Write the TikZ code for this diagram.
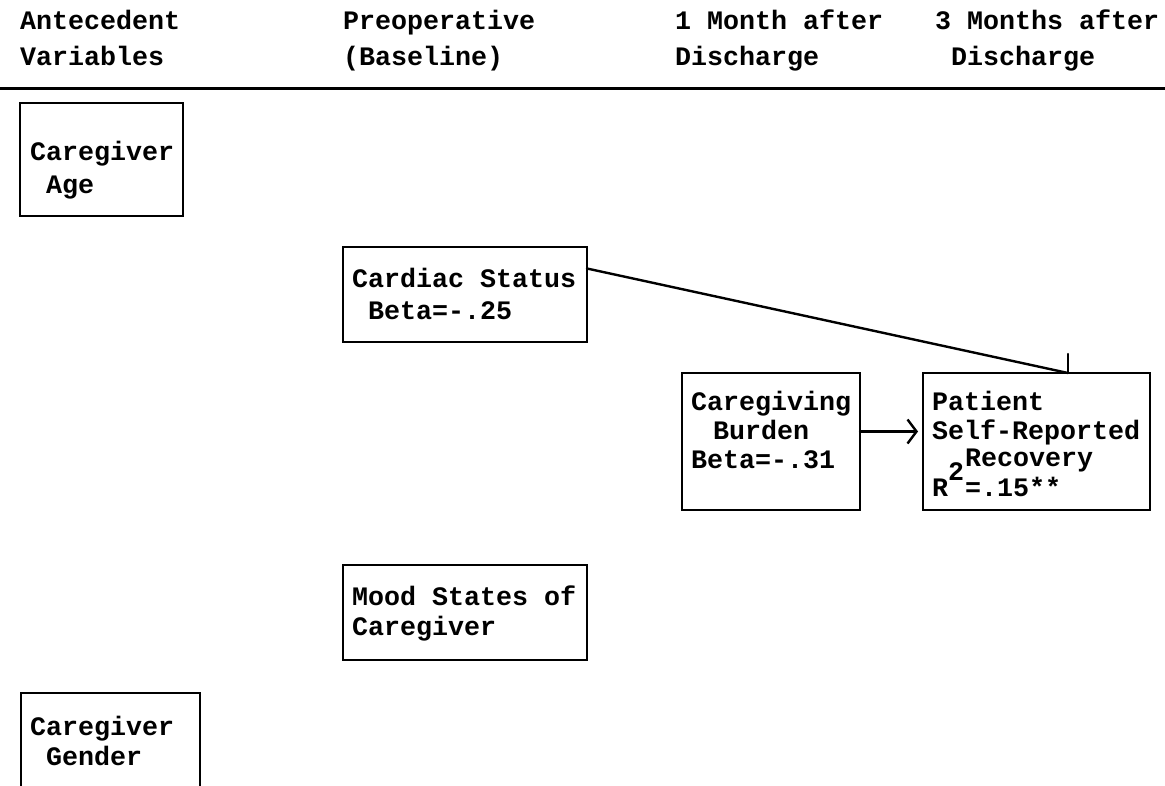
\documentclass[tikz,border=0pt]{standalone}
\usepackage{fontspec}
\newfontfamily\tw{Liberation Mono}
\usetikzlibrary{arrows.meta,calc}
\begin{document}
\begin{tikzpicture}[x=1pt,y=-1pt,
  lbl/.style={anchor=base west, inner sep=0pt, outer sep=0pt,
    font=\tw\bfseries\fontsize{26.67pt}{30pt}\selectfont},
  box/.style={draw, line width=2.4pt, anchor=north west, inner sep=0pt, outer sep=0pt},
  conn/.style={line width=2.4pt, line cap=round, line join=round}]
\useasboundingbox (0,0) rectangle (1165,785);
\clip (0,0) rectangle (1165,785);
\fill[white] (0,0) rectangle (1165,785);

% column headings
\node[lbl] (h1a) at (20,29) {Antecedent};
\node[lbl] (h1b) at (20,65) {Variables};
\node[lbl] (h2a) at (343,29) {Preoperative};
\node[lbl] (h2b) at (343,65) {(Baseline)};
\node[lbl] (h3a) at (675,29) {1 Month after};
\node[lbl] (h3b) at (675,65) {Discharge};
\node[lbl] (h4a) at (935,29) {3 Months after};
\node[lbl] (h4b) at (951,65) {Discharge};
\coordinate (ruleL) at (0,88);
\coordinate (ruleR) at (1165,88);
\draw[line width=3pt] (ruleL) -- (ruleR);

% antecedent variables
\node[box, minimum width=163pt, minimum height=113pt] (age) at (20,103) {};
\node[lbl] (age1) at (30,160) {Caregiver};
\node[lbl] (age2) at (46,193) {Age};

\node[box, minimum width=179pt, minimum height=140pt] (gender) at (21,693) {};
\node[lbl] (gender1) at (30,735) {Caregiver};
\node[lbl] (gender2) at (46,765) {Gender};

% baseline measures
\node[box, minimum width=244pt, minimum height=95pt] (cardiac) at (343,247) {};
\node[lbl] (cardiac1) at (352,287) {Cardiac Status};
\node[lbl] (cardiac2) at (368,319) {Beta=-.25};

\node[box, minimum width=244pt, minimum height=95pt] (mood) at (343,565) {};
\node[lbl] (mood1) at (352,605) {Mood States of};
\node[lbl] (mood2) at (352,635) {Caregiver};

% one month after discharge
\node[box, minimum width=178pt, minimum height=137pt] (burden) at (682,373) {};
\node[lbl] (burden1) at (691,410) {Caregiving};
\node[lbl] (burden2) at (713,439) {Burden};
\node[lbl] (burden3) at (691,468) {Beta=-.31};

% three months after discharge
\node[box, minimum width=227pt, minimum height=137pt] (patient) at (923,373) {};
\node[lbl] (patient1) at (932,410) {Patient};
\node[lbl] (patient2) at (932,439) {Self-Reported};
\node[lbl] (patient3) at (965,466) {Recovery};
\node[lbl] (patient4) at (932,496) {R};
\node[lbl] (patient5) at (948,480) {2};
\node[lbl] (patient6) at (965,496) {=.15**};

% paths
\coordinate (tip) at ([xshift=31.5pt]patient.north);
\draw[conn] ([yshift=26pt]cardiac.east) -- (tip);
\draw[conn] ([yshift=19pt]tip) -- (tip) -- ([xshift=-18pt]tip);
\draw[conn, -{Straight Barb[length=9pt,width=24pt]}, shorten >=5pt]
  ([yshift=10pt]burden.east) -- ([yshift=10pt]burden.east -| patient.west);
\end{tikzpicture}
\end{document}
